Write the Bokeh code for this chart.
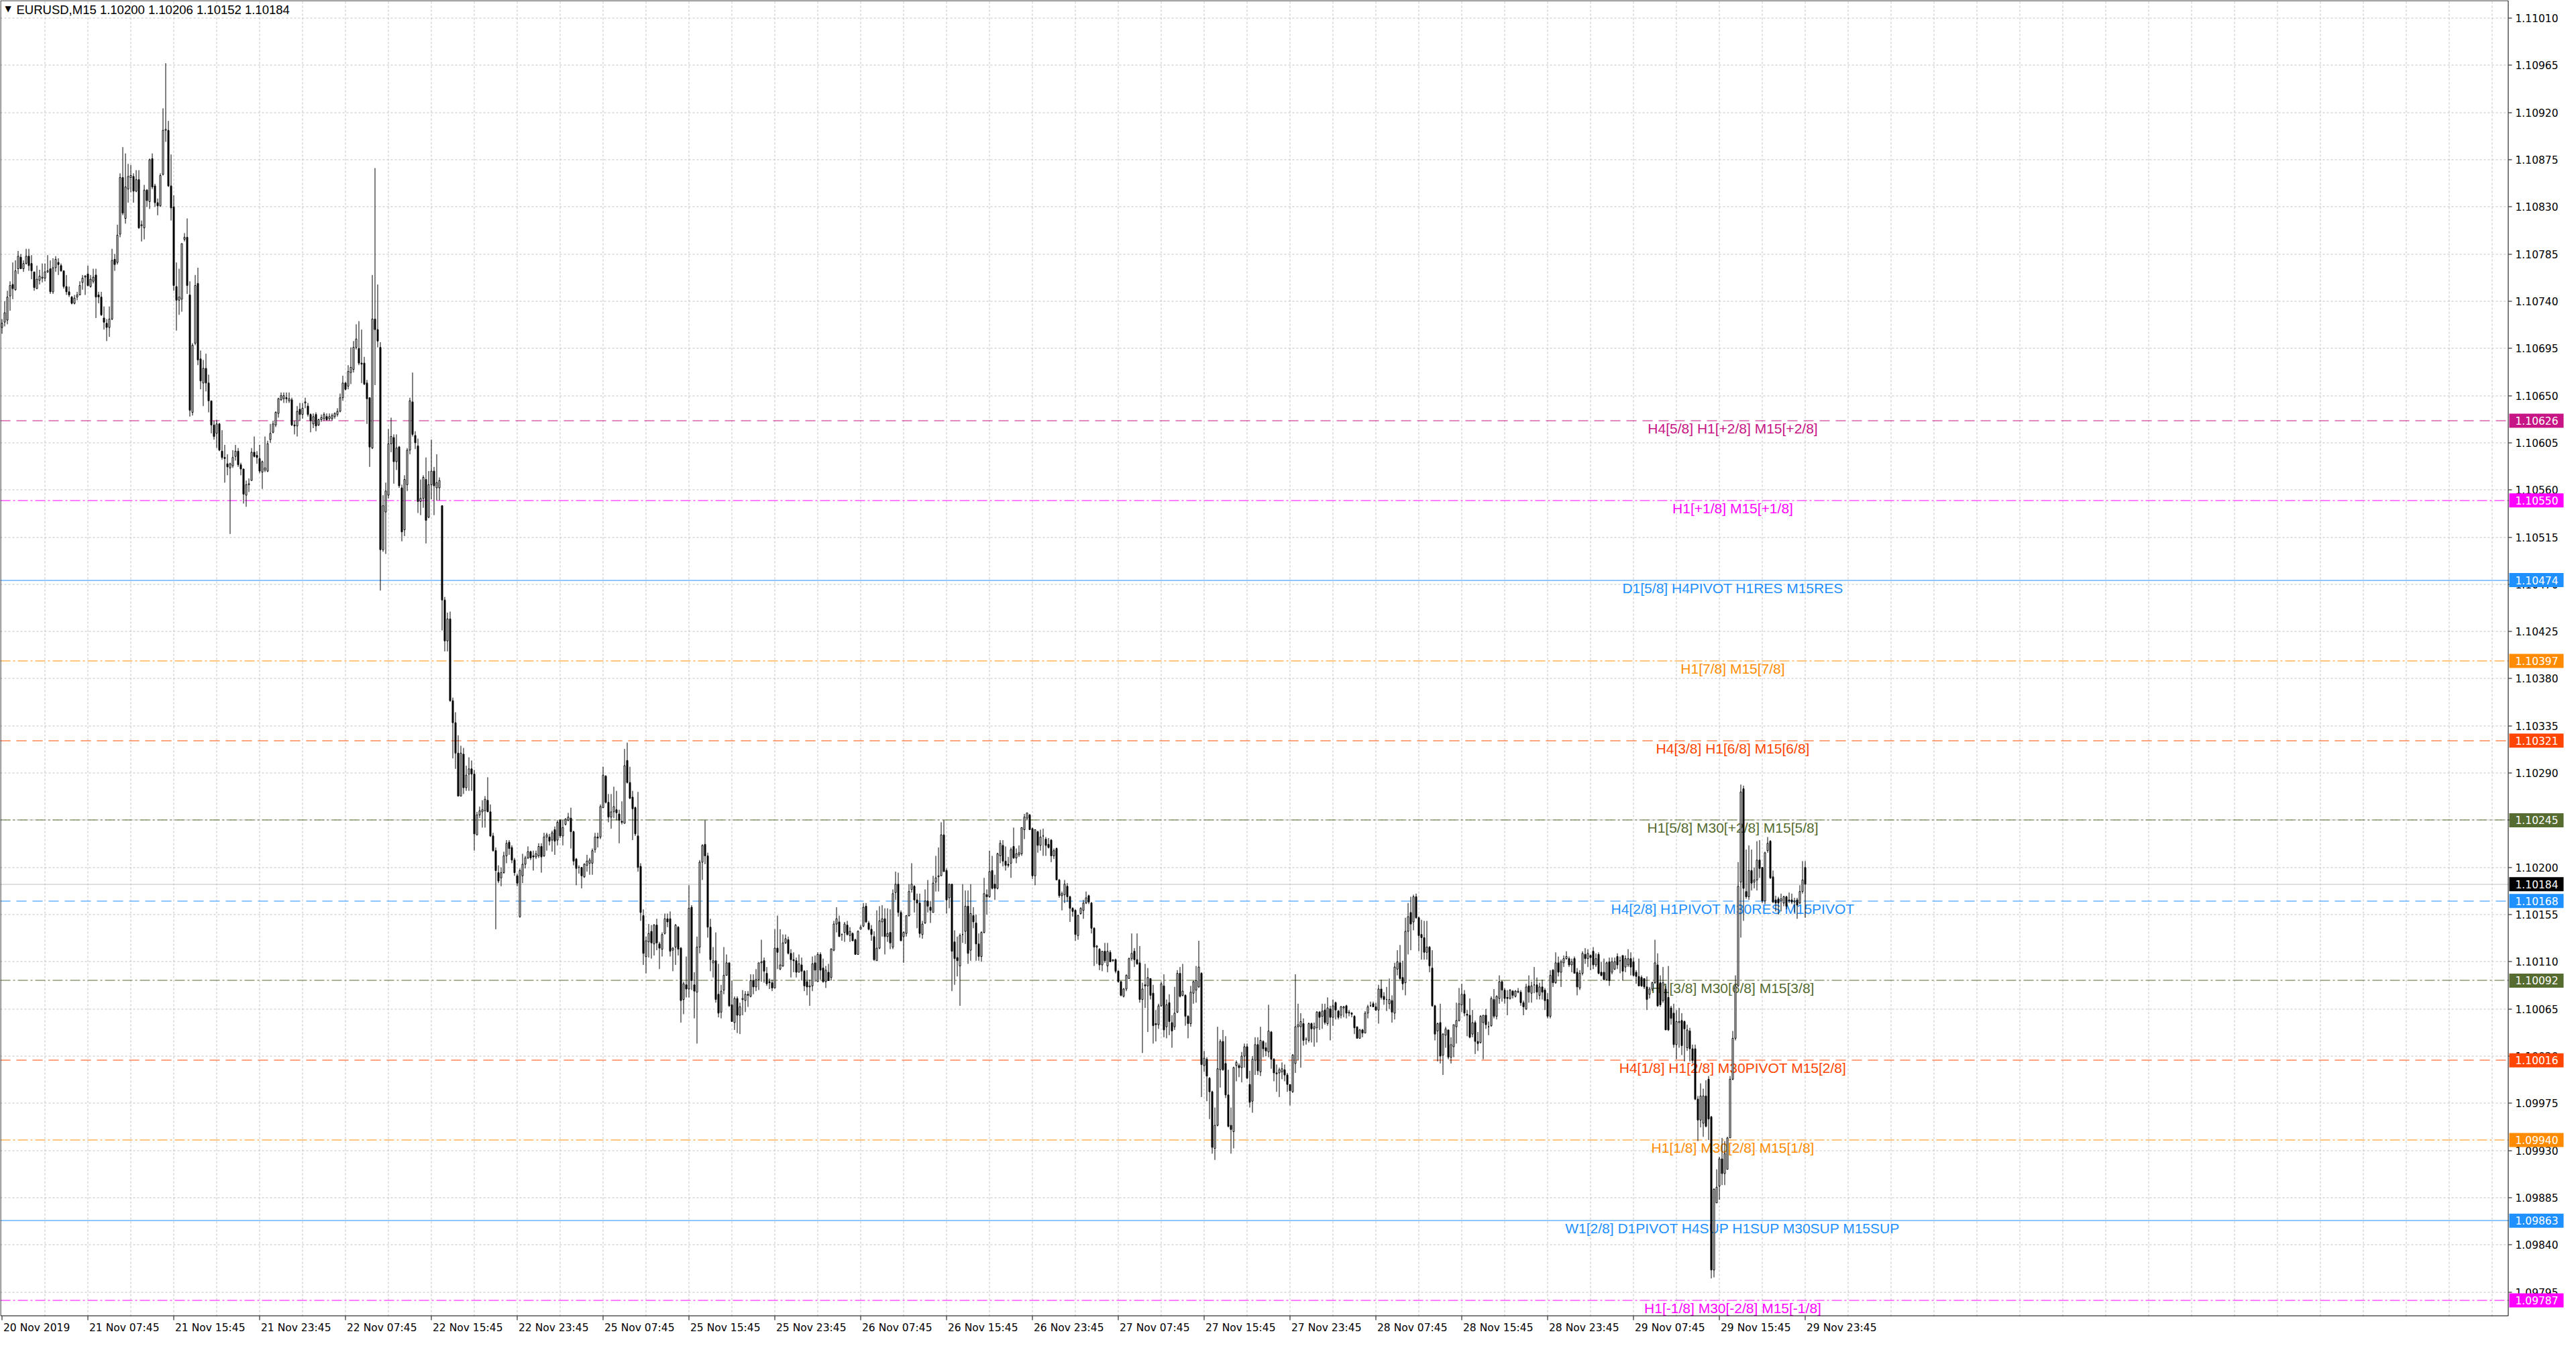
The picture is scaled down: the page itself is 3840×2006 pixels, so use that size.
import numpy as np
import pandas as pd
from bokeh.plotting import figure
from bokeh.models import ColumnDataSource, Range1d, Label
from bokeh.core.properties import value
from bokeh.embed import file_html
from bokeh.resources import INLINE

# EURUSD M15, 20 Nov 2019 23:45 .. 29 Nov 2019 23:45
# prices are kept as points (0.00001) above 1.09000
symbol = "EURUSD,M15"
price_base = 1.09

opens = [
    # 0
    1715, 1720, 1722, 1745, 1756, 1751, 1771, 1782, 1771, 1776, 1783, 1776, 1768, 1752, 1760, 1762,
    1762, 1768, 1771, 1749, 1772, 1777, 1774, 1769, 1754, 1749, 1744, 1738, 1744, 1746, 1758, 1763,
    1766, 1754, 1759, 1765, 1746, 1744, 1724, 1719, 1715, 1723, 1780, 1777, 1804, 1858, 1819, 1847,
    1858, 1859, 1845, 1856, 1812, 1810, 1846, 1835, 1876, 1850, 1834, 1831, 1861, 1903, 1903, 1850,
    1830, 1754, 1741, 1742, 1799, 1801, 1746, 1634, 1700, 1757, 1685, 1662, 1676, 1662, 1645, 1622,
    1614, 1623, 1597, 1591, 1585, 1581, 1583, 1592, 1597, 1584, 1580, 1555, 1565, 1569, 1596, 1593,
    1590, 1577, 1579, 1578, 1608, 1615, 1622, 1633,
    # 104
    1646, 1647, 1648, 1645, 1646, 1622, 1621, 1637, 1632, 1643, 1640, 1632, 1623, 1632, 1622, 1627,
    1628, 1630, 1628, 1628, 1630, 1632, 1635, 1648, 1662, 1659, 1672, 1675, 1696, 1695, 1681, 1681,
    1662, 1648, 1600, 1723, 1713, 1696, 1503, 1539, 1555, 1604, 1610, 1587, 1601, 1562, 1522, 1565,
    1598, 1644, 1612, 1602, 1549, 1552, 1570, 1534, 1565, 1578, 1562, 1562, 1545, 1455, 1416, 1437,
    1359, 1338, 1309, 1268, 1308, 1276, 1289, 1294, 1289, 1231, 1250, 1253, 1254, 1264, 1253, 1230,
    1216, 1195, 1190, 1195, 1211, 1224, 1219, 1207, 1192, 1153, 1192, 1203, 1209, 1215, 1211, 1210,
    1211, 1220, 1211, 1229,
    # 204
    1229, 1226, 1236, 1226, 1245, 1230, 1241, 1245, 1247, 1234, 1208, 1200, 1200, 1191, 1202, 1204,
    1204, 1217, 1229, 1229, 1257, 1287, 1262, 1248, 1253, 1255, 1251, 1244, 1242, 1302, 1281, 1267,
    1257, 1230, 1201, 1154, 1115, 1129, 1139, 1127, 1145, 1127, 1122, 1137, 1151, 1151, 1121, 1124,
    1143, 1123, 1074, 1088, 1084, 1162, 1088, 1081, 1124, 1205, 1222, 1211, 1143, 1109, 1111, 1079,
    1062, 1083, 1097, 1109, 1069, 1052, 1075, 1059, 1074, 1073, 1079, 1077, 1092, 1086, 1093, 1109,
    1111, 1099, 1091, 1090, 1085, 1123, 1103, 1106, 1128, 1131, 1118, 1112, 1111, 1100, 1107, 1101,
    1091, 1086, 1087, 1109, 1091, 1117, 1104, 1091, 1100,
    # 309
    1095, 1121, 1146, 1148, 1136, 1138, 1145, 1135, 1137, 1131, 1117, 1141, 1144, 1163, 1147, 1141,
    1134, 1111, 1123, 1148, 1151, 1134, 1138, 1124, 1176, 1184, 1157, 1134, 1137, 1154, 1179, 1182,
    1169, 1166, 1136, 1147, 1168, 1162, 1157, 1186, 1191, 1192, 1231, 1197, 1171, 1184, 1129, 1114,
    1106, 1136, 1139, 1163, 1121, 1154, 1147, 1127, 1115, 1138, 1174, 1172, 1197, 1184, 1180, 1211,
    1221, 1206, 1203, 1204, 1220, 1209, 1212, 1213, 1236, 1247, 1250, 1237, 1192, 1234, 1221, 1230,
    1227, 1222, 1226, 1211, 1218, 1188, 1173, 1174, 1182, 1172, 1161, 1159, 1135, 1156, 1159, 1166,
    1173, 1166, 1142, 1124, 1122, 1107, 1120,
    # 412
    1106, 1119, 1111, 1112, 1101, 1091, 1077, 1084, 1094, 1113, 1120, 1112, 1109, 1074, 1088, 1087,
    1094, 1080, 1051, 1050, 1068, 1087, 1048, 1071, 1052, 1048, 1062, 1099, 1078, 1078, 1058, 1051,
    1080, 1083, 1086, 1099, 1011, 1017, 999, 986, 932, 954, 1007, 1034, 1013, 983, 954, 948,
    1011, 1011, 1009, 1020, 1029, 993, 977, 1016, 1031, 1005, 1034, 1028, 1024, 1043, 1017, 1004,
    1004, 1005, 1007, 1002, 993, 986, 1013, 1048, 1048, 1051, 1036, 1035, 1051, 1046, 1047, 1062,
    1058, 1064,
    # 494
    1051, 1065, 1057, 1071, 1063, 1059, 1066, 1068, 1061, 1061, 1058, 1048, 1037, 1045, 1042, 1061,
    1068, 1070, 1067, 1064, 1084, 1077, 1074, 1070, 1073, 1061, 1103, 1109, 1095, 1090, 1139, 1157,
    1148, 1172, 1152, 1136, 1133, 1119, 1124, 1104, 1068, 1044, 1052, 1021, 1040, 1045, 1019, 1029,
    1048, 1054, 1069, 1079, 1060, 1059, 1041, 1052, 1034, 1033, 1052, 1059, 1048, 1049, 1074, 1058,
    1075, 1091, 1083, 1076, 1075, 1082, 1077, 1081, 1081, 1071, 1065, 1087, 1080, 1088, 1088, 1078,
    1086, 1083,
    # 576
    1074, 1058, 1102, 1090, 1109, 1100, 1109, 1113, 1113, 1107, 1113, 1100, 1085, 1099, 1117, 1113,
    1116, 1120, 1107, 1117, 1100, 1100, 1093, 1110, 1100, 1103, 1115, 1111, 1116, 1105, 1107, 1113,
    1110, 1100, 1096, 1095, 1094, 1086, 1079, 1084, 1090, 1107, 1090, 1073, 1084, 1076, 1066, 1061,
    1031, 1052, 1054, 1053, 1028, 1044, 1027, 1027, 979, 959, 956, 982, 998, 962, 816, 880,
    896, 922, 908, 912, 942, 998, 1037, 1087, 1186, 1275, 1177, 1172, 1197, 1186, 1188, 1207,
    1200, 1168, 1216, 1225, 1191, 1169, 1170, 1168, 1166, 1172, 1169, 1169, 1167, 1169, 1166, 1177,
    1200,
]

highs = [
    # 0
    1723, 1740, 1750, 1759, 1777, 1779, 1788, 1785, 1779, 1790, 1790, 1784, 1768, 1774, 1770, 1776,
    1776, 1784, 1779, 1781, 1783, 1781, 1776, 1769, 1765, 1754, 1745, 1746, 1749, 1759, 1765, 1765,
    1774, 1765, 1771, 1771, 1749, 1749, 1735, 1723, 1735, 1790, 1785, 1813, 1862, 1887, 1881, 1871,
    1870, 1862, 1865, 1865, 1817, 1851, 1847, 1876, 1881, 1852, 1838, 1862, 1924, 1967, 1912, 1880,
    1841, 1777, 1771, 1795, 1805, 1819, 1759, 1700, 1765, 1772, 1693, 1684, 1690, 1670, 1645, 1626,
    1627, 1624, 1617, 1603, 1594, 1586, 1598, 1603, 1600, 1586, 1580, 1569, 1571, 1600, 1611, 1597,
    1603, 1588, 1611, 1607, 1623, 1626, 1635, 1648,
    # 104
    1653, 1653, 1653, 1653, 1648, 1626, 1640, 1643, 1643, 1648, 1643, 1633, 1633, 1634, 1628, 1632,
    1634, 1633, 1633, 1633, 1634, 1638, 1652, 1669, 1663, 1679, 1696, 1702, 1718, 1721, 1713, 1687,
    1665, 1648, 1765, 1867, 1756, 1701, 1555, 1567, 1618, 1629, 1613, 1613, 1602, 1565, 1574, 1600,
    1648, 1672, 1616, 1609, 1570, 1574, 1591, 1578, 1608, 1582, 1594, 1572, 1545, 1458, 1443, 1444,
    1362, 1348, 1326, 1316, 1314, 1297, 1305, 1302, 1293, 1253, 1258, 1264, 1268, 1286, 1260, 1233,
    1219, 1202, 1200, 1215, 1226, 1226, 1221, 1209, 1194, 1199, 1213, 1211, 1220, 1216, 1216, 1216,
    1223, 1223, 1233, 1233,
    # 204
    1232, 1235, 1239, 1245, 1246, 1245, 1247, 1252, 1257, 1235, 1209, 1202, 1200, 1204, 1212, 1209,
    1218, 1233, 1233, 1260, 1296, 1288, 1270, 1270, 1277, 1273, 1255, 1263, 1313, 1319, 1296, 1273,
    1258, 1272, 1204, 1160, 1134, 1146, 1145, 1146, 1151, 1129, 1138, 1156, 1156, 1158, 1124, 1146,
    1144, 1124, 1091, 1115, 1183, 1164, 1100, 1134, 1207, 1222, 1245, 1214, 1151, 1124, 1138, 1108,
    1088, 1124, 1117, 1109, 1092, 1077, 1077, 1071, 1083, 1082, 1082, 1098, 1098, 1103, 1109, 1131,
    1114, 1105, 1094, 1093, 1141, 1154, 1141, 1136, 1136, 1134, 1122, 1119, 1114, 1117, 1114, 1102,
    1102, 1093, 1115, 1116, 1119, 1119, 1113, 1106, 1108,
    # 309
    1123, 1149, 1162, 1154, 1137, 1148, 1149, 1143, 1138, 1132, 1140, 1145, 1166, 1166, 1149, 1145,
    1139, 1159, 1163, 1164, 1161, 1161, 1160, 1179, 1196, 1195, 1159, 1139, 1154, 1184, 1204, 1183,
    1175, 1175, 1149, 1179, 1188, 1168, 1192, 1211, 1219, 1243, 1245, 1199, 1184, 1184, 1140, 1134,
    1137, 1184, 1178, 1178, 1184, 1162, 1155, 1137, 1139, 1190, 1179, 1216, 1211, 1193, 1214, 1226,
    1226, 1220, 1210, 1219, 1238, 1218, 1221, 1238, 1251, 1252, 1251, 1238, 1236, 1235, 1236, 1237,
    1229, 1228, 1227, 1218, 1219, 1189, 1177, 1188, 1185, 1173, 1162, 1160, 1155, 1162, 1169, 1177,
    1174, 1167, 1143, 1126, 1123, 1120, 1128,
    # 412
    1128, 1121, 1112, 1113, 1102, 1092, 1085, 1098, 1114, 1137, 1123, 1137, 1125, 1090, 1108, 1104,
    1094, 1088, 1064, 1070, 1091, 1098, 1074, 1079, 1059, 1086, 1102, 1105, 1108, 1079, 1059, 1087,
    1092, 1106, 1130, 1100, 1025, 1019, 1000, 987, 971, 1048, 1036, 1045, 1039, 1007, 971, 1010,
    1016, 1013, 1024, 1032, 1032, 1006, 1020, 1038, 1038, 1048, 1035, 1033, 1069, 1044, 1018, 1012,
    1009, 1014, 1012, 1004, 993, 1022, 1098, 1070, 1061, 1056, 1038, 1052, 1052, 1052, 1063, 1063,
    1070, 1070,
    # 494
    1076, 1068, 1074, 1072, 1064, 1068, 1068, 1069, 1064, 1062, 1059, 1048, 1046, 1046, 1063, 1069,
    1072, 1072, 1071, 1088, 1093, 1081, 1086, 1094, 1078, 1109, 1121, 1126, 1111, 1152, 1166, 1172,
    1174, 1175, 1153, 1150, 1149, 1149, 1125, 1121, 1069, 1052, 1070, 1042, 1048, 1045, 1038, 1050,
    1071, 1085, 1089, 1083, 1064, 1075, 1064, 1054, 1043, 1059, 1059, 1065, 1053, 1077, 1084, 1078,
    1097, 1092, 1085, 1083, 1084, 1083, 1083, 1085, 1083, 1073, 1089, 1097, 1091, 1105, 1095, 1090,
    1093, 1085,
    # 576
    1080, 1102, 1103, 1119, 1115, 1112, 1116, 1120, 1115, 1113, 1115, 1104, 1102, 1120, 1123, 1122,
    1117, 1124, 1118, 1119, 1110, 1113, 1110, 1114, 1114, 1114, 1118, 1115, 1116, 1116, 1122, 1119,
    1114, 1102, 1113, 1097, 1094, 1096, 1086, 1091, 1131, 1118, 1097, 1105, 1087, 1106, 1068, 1070,
    1064, 1066, 1061, 1054, 1050, 1047, 1031, 1031, 982, 994, 989, 997, 1001, 963, 894, 912,
    924, 942, 939, 943, 1001, 1044, 1097, 1205, 1279, 1278, 1217, 1221, 1217, 1200, 1225, 1226,
    1200, 1215, 1229, 1226, 1197, 1173, 1172, 1175, 1173, 1173, 1176, 1175, 1171, 1171, 1183, 1206,
    1206,
]

lows = [
    # 0
    1709, 1716, 1718, 1731, 1742, 1750, 1766, 1771, 1768, 1775, 1769, 1761, 1750, 1752, 1756, 1758,
    1759, 1767, 1747, 1747, 1768, 1765, 1768, 1752, 1746, 1744, 1737, 1737, 1741, 1746, 1751, 1746,
    1754, 1753, 1757, 1724, 1738, 1726, 1713, 1702, 1706, 1722, 1769, 1775, 1801, 1822, 1814, 1834,
    1844, 1834, 1844, 1809, 1797, 1799, 1830, 1828, 1847, 1830, 1822, 1830, 1860, 1892, 1849, 1817,
    1750, 1712, 1727, 1730, 1797, 1747, 1630, 1631, 1698, 1679, 1656, 1640, 1654, 1634, 1614, 1608,
    1600, 1597, 1589, 1567, 1574, 1518, 1581, 1588, 1582, 1574, 1547, 1544, 1558, 1569, 1591, 1585,
    1576, 1561, 1577, 1577, 1605, 1614, 1620, 1629,
    # 104
    1645, 1643, 1643, 1643, 1621, 1613, 1611, 1626, 1628, 1638, 1630, 1615, 1619, 1616, 1621, 1625,
    1626, 1626, 1626, 1626, 1628, 1630, 1634, 1645, 1655, 1656, 1661, 1672, 1694, 1679, 1662, 1660,
    1623, 1582, 1599, 1660, 1696, 1464, 1501, 1499, 1552, 1596, 1566, 1579, 1562, 1511, 1516, 1559,
    1594, 1611, 1599, 1538, 1536, 1543, 1509, 1533, 1551, 1536, 1550, 1550, 1426, 1406, 1406, 1358,
    1304, 1294, 1268, 1268, 1270, 1273, 1273, 1273, 1216, 1231, 1247, 1238, 1238, 1253, 1229, 1215,
    1141, 1185, 1182, 1194, 1204, 1212, 1204, 1192, 1182, 1152, 1185, 1199, 1208, 1207, 1197, 1208,
    1209, 1195, 1210, 1216,
    # 204
    1221, 1215, 1212, 1221, 1228, 1221, 1240, 1244, 1218, 1202, 1183, 1194, 1180, 1190, 1196, 1193,
    1193, 1214, 1219, 1227, 1257, 1261, 1243, 1237, 1247, 1245, 1223, 1241, 1242, 1280, 1265, 1226,
    1230, 1196, 1149, 1107, 1099, 1114, 1113, 1116, 1121, 1103, 1115, 1136, 1143, 1115, 1101, 1107,
    1116, 1052, 1060, 1076, 1076, 1083, 1056, 1032, 1118, 1188, 1203, 1133, 1101, 1095, 1071, 1057,
    1056, 1079, 1097, 1067, 1053, 1045, 1042, 1041, 1059, 1062, 1067, 1076, 1079, 1082, 1083, 1091,
    1090, 1087, 1084, 1082, 1085, 1103, 1102, 1105, 1127, 1117, 1095, 1100, 1095, 1100, 1092, 1082,
    1078, 1068, 1082, 1091, 1091, 1093, 1090, 1085, 1092,
    # 309
    1092, 1120, 1138, 1134, 1130, 1129, 1135, 1129, 1130, 1117, 1117, 1141, 1143, 1147, 1140, 1130,
    1111, 1111, 1122, 1134, 1117, 1129, 1122, 1122, 1169, 1153, 1130, 1109, 1134, 1153, 1176, 1157,
    1142, 1133, 1132, 1146, 1157, 1147, 1157, 1177, 1177, 1192, 1196, 1156, 1161, 1082, 1088, 1096,
    1068, 1128, 1127, 1108, 1111, 1142, 1111, 1111, 1110, 1137, 1155, 1171, 1179, 1169, 1179, 1204,
    1201, 1197, 1200, 1190, 1208, 1204, 1210, 1211, 1227, 1245, 1236, 1189, 1183, 1214, 1216, 1211,
    1211, 1218, 1205, 1208, 1188, 1171, 1159, 1166, 1167, 1148, 1153, 1130, 1131, 1155, 1151, 1165,
    1165, 1137, 1106, 1108, 1102, 1101, 1109,
    # 412
    1100, 1110, 1110, 1099, 1090, 1077, 1076, 1082, 1094, 1111, 1105, 1107, 1071, 1023, 1066, 1043,
    1074, 1032, 1034, 1046, 1067, 1038, 1037, 1040, 1028, 1045, 1061, 1076, 1077, 1049, 1037, 1048,
    1070, 1071, 1085, 981, 1005, 977, 960, 927, 921, 953, 990, 1006, 980, 952, 927, 932,
    996, 1000, 995, 1009, 998, 971, 966, 1002, 1002, 1001, 1019, 1020, 1019, 1008, 996, 986,
    981, 998, 996, 986, 973, 985, 1004, 1016, 1009, 1030, 1031, 1033, 1033, 1029, 1033, 1045,
    1046, 1050,
    # 494
    1049, 1035, 1049, 1055, 1055, 1056, 1057, 1056, 1058, 1057, 1041, 1037, 1037, 1038, 1042, 1056,
    1067, 1067, 1063, 1051, 1074, 1069, 1063, 1065, 1052, 1055, 1097, 1093, 1083, 1078, 1117, 1121,
    1140, 1151, 1120, 1112, 1112, 1112, 1100, 1067, 1035, 1015, 1013, 1002, 1028, 1017, 1013, 1019,
    1032, 1053, 1062, 1058, 1039, 1037, 1038, 1022, 1025, 1032, 1017, 1046, 1040, 1048, 1056, 1055,
    1070, 1072, 1070, 1059, 1074, 1075, 1076, 1080, 1068, 1059, 1064, 1071, 1071, 1080, 1074, 1074,
    1074, 1064,
    # 576
    1056, 1056, 1086, 1089, 1096, 1086, 1105, 1112, 1105, 1100, 1099, 1078, 1083, 1097, 1108, 1105,
    1102, 1103, 1105, 1098, 1096, 1092, 1092, 1087, 1098, 1102, 1103, 1099, 1092, 1100, 1105, 1097,
    1096, 1089, 1087, 1086, 1084, 1064, 1075, 1082, 1089, 1067, 1067, 1071, 1045, 1044, 1050, 1028,
    1017, 1028, 1021, 1015, 1025, 1015, 1013, 978, 939, 952, 943, 952, 940, 808, 809, 880,
    883, 897, 897, 912, 942, 997, 1035, 1086, 1133, 1149, 1170, 1169, 1178, 1180, 1178, 1190,
    1166, 1165, 1214, 1189, 1166, 1158, 1155, 1158, 1163, 1160, 1166, 1165, 1157, 1151, 1165, 1175,
    1152,
]

closes = [
    # 0
    1719, 1729, 1744, 1755, 1752, 1769, 1783, 1771, 1776, 1783, 1774, 1769, 1753, 1761, 1764, 1763,
    1768, 1769, 1749, 1772, 1780, 1775, 1769, 1754, 1749, 1746, 1738, 1743, 1746, 1755, 1762, 1764,
    1755, 1761, 1763, 1744, 1744, 1727, 1720, 1715, 1723, 1779, 1775, 1803, 1858, 1824, 1849, 1859,
    1860, 1845, 1856, 1810, 1813, 1846, 1836, 1875, 1849, 1834, 1831, 1860, 1903, 1904, 1850, 1829,
    1755, 1741, 1744, 1795, 1801, 1755, 1636, 1698, 1755, 1684, 1664, 1676, 1662, 1645, 1622, 1611,
    1623, 1598, 1591, 1590, 1582, 1585, 1591, 1597, 1584, 1580, 1556, 1565, 1566, 1596, 1592, 1591,
    1578, 1587, 1581, 1604, 1614, 1623, 1634, 1647,
    # 104
    1650, 1650, 1647, 1647, 1622, 1621, 1635, 1632, 1638, 1644, 1632, 1626, 1630, 1621, 1627, 1629,
    1632, 1627, 1630, 1631, 1633, 1635, 1648, 1662, 1656, 1673, 1677, 1696, 1704, 1681, 1680, 1661,
    1647, 1601, 1723, 1713, 1702, 1503, 1545, 1559, 1604, 1611, 1587, 1600, 1564, 1520, 1570, 1598,
    1645, 1613, 1605, 1549, 1552, 1572, 1531, 1565, 1578, 1564, 1567, 1569, 1455, 1416, 1437, 1359,
    1338, 1309, 1268, 1309, 1276, 1288, 1294, 1289, 1232, 1250, 1254, 1255, 1265, 1253, 1230, 1216,
    1197, 1187, 1195, 1211, 1223, 1218, 1207, 1195, 1185, 1197, 1203, 1209, 1215, 1209, 1210, 1213,
    1220, 1210, 1229, 1231,
    # 204
    1225, 1233, 1225, 1243, 1230, 1238, 1246, 1248, 1234, 1206, 1199, 1200, 1192, 1203, 1206, 1207,
    1216, 1229, 1228, 1258, 1288, 1262, 1248, 1253, 1258, 1252, 1245, 1243, 1297, 1281, 1266, 1256,
    1232, 1200, 1157, 1118, 1130, 1137, 1128, 1145, 1128, 1123, 1136, 1151, 1148, 1120, 1123, 1145,
    1122, 1073, 1089, 1084, 1161, 1092, 1082, 1124, 1205, 1221, 1211, 1143, 1112, 1111, 1074, 1061,
    1082, 1097, 1109, 1068, 1053, 1075, 1059, 1067, 1075, 1079, 1078, 1092, 1086, 1093, 1109, 1110,
    1101, 1089, 1090, 1085, 1123, 1119, 1107, 1128, 1132, 1118, 1112, 1111, 1100, 1108, 1101, 1087,
    1086, 1087, 1108, 1102, 1117, 1102, 1091, 1102, 1092,
    # 309
    1122, 1146, 1151, 1134, 1136, 1146, 1136, 1139, 1130, 1117, 1139, 1143, 1162, 1148, 1141, 1136,
    1112, 1123, 1149, 1151, 1134, 1137, 1128, 1175, 1184, 1157, 1130, 1138, 1154, 1177, 1184, 1169,
    1166, 1137, 1146, 1168, 1163, 1159, 1185, 1190, 1192, 1231, 1196, 1169, 1184, 1120, 1113, 1111,
    1135, 1136, 1163, 1118, 1156, 1148, 1127, 1115, 1138, 1175, 1172, 1196, 1180, 1180, 1213, 1223,
    1206, 1202, 1202, 1217, 1209, 1213, 1214, 1238, 1248, 1252, 1236, 1192, 1236, 1221, 1229, 1230,
    1221, 1219, 1211, 1216, 1188, 1173, 1175, 1184, 1172, 1161, 1158, 1136, 1154, 1161, 1166, 1171,
    1167, 1142, 1124, 1125, 1107, 1120, 1111,
    # 412
    1120, 1110, 1112, 1101, 1091, 1078, 1084, 1097, 1113, 1118, 1112, 1108, 1074, 1084, 1087, 1095,
    1078, 1049, 1050, 1068, 1089, 1045, 1069, 1053, 1044, 1061, 1099, 1077, 1082, 1058, 1051, 1081,
    1091, 1092, 1105, 1012, 1018, 1001, 986, 933, 954, 1008, 1034, 1007, 983, 953, 950, 1009,
    1014, 1009, 1020, 1029, 999, 976, 1017, 1031, 1006, 1035, 1027, 1025, 1044, 1017, 1004, 1003,
    1007, 1008, 1002, 993, 987, 1021, 1048, 1050, 1053, 1035, 1036, 1051, 1046, 1048, 1062, 1057,
    1063, 1052,
    # 494
    1066, 1057, 1068, 1064, 1057, 1067, 1067, 1061, 1062, 1060, 1047, 1037, 1045, 1042, 1061, 1067,
    1068, 1067, 1064, 1084, 1076, 1074, 1074, 1074, 1062, 1105, 1110, 1094, 1089, 1139, 1153, 1146,
    1172, 1152, 1135, 1133, 1119, 1124, 1106, 1068, 1041, 1051, 1020, 1041, 1046, 1019, 1031, 1050,
    1054, 1070, 1079, 1061, 1059, 1038, 1052, 1034, 1032, 1058, 1059, 1050, 1048, 1075, 1058, 1077,
    1091, 1083, 1075, 1075, 1083, 1078, 1082, 1082, 1071, 1067, 1086, 1081, 1087, 1088, 1081, 1086,
    1081, 1073,
    # 576
    1058, 1097, 1090, 1109, 1100, 1110, 1113, 1115, 1107, 1110, 1099, 1086, 1099, 1118, 1113, 1118,
    1114, 1107, 1113, 1099, 1097, 1093, 1109, 1092, 1110, 1110, 1107, 1111, 1101, 1113, 1113, 1105,
    1097, 1096, 1087, 1087, 1086, 1074, 1084, 1090, 1109, 1068, 1069, 1090, 1045, 1045, 1056, 1031,
    1053, 1053, 1030, 1046, 1045, 1027, 1016, 979, 959, 982, 982, 953, 960, 816, 893, 895,
    922, 908, 927, 942, 998, 1037, 1087, 1182, 1272, 1180, 1172, 1197, 1185, 1188, 1207, 1199,
    1168, 1214, 1223, 1190, 1167, 1166, 1166, 1170, 1172, 1163, 1168, 1167, 1168, 1164, 1177, 1188,
    1184,
]

time_label_bars = [0, 32, 64, 96, 128, 160, 192, 224, 256, 288, 320, 352, 384, 416, 448,
                   480, 512, 544, 576, 608, 640, 672]
time_labels = ["20 Nov 2019", "21 Nov 07:45", "21 Nov 15:45", "21 Nov 23:45", "22 Nov 07:45",
               "22 Nov 15:45", "22 Nov 23:45", "25 Nov 07:45", "25 Nov 15:45", "25 Nov 23:45",
               "26 Nov 07:45", "26 Nov 15:45", "26 Nov 23:45", "27 Nov 07:45", "27 Nov 15:45",
               "27 Nov 23:45", "28 Nov 07:45", "28 Nov 15:45", "28 Nov 23:45", "29 Nov 07:45",
               "29 Nov 15:45", "29 Nov 23:45"]

price_ticks = [1.09795, 1.09840, 1.09885, 1.09930, 1.09975, 1.10020, 1.10065, 1.10110,
               1.10155, 1.10200, 1.10245, 1.10290, 1.10335, 1.10380, 1.10425, 1.10470,
               1.10515, 1.10560, 1.10605, 1.10650, 1.10695, 1.10740, 1.10785, 1.10830,
               1.10875, 1.10920, 1.10965, 1.11010]

# Murrey math levels drawn by the indicator
level_prices = [1.10626, 1.10550, 1.10474, 1.10397, 1.10321, 1.10245,
                1.10168, 1.10092, 1.10016, 1.09940, 1.09863, 1.09787]
level_texts = ["H4[5/8] H1[+2/8] M15[+2/8]",
               "H1[+1/8] M15[+1/8]",
               "D1[5/8] H4PIVOT H1RES M15RES",
               "H1[7/8] M15[7/8]",
               "H4[3/8] H1[6/8] M15[6/8]",
               "H1[5/8] M30[+2/8] M15[5/8]",
               "H4[2/8] H1PIVOT M30RES M15PIVOT",
               "H1[3/8] M30[6/8] M15[3/8]",
               "H4[1/8] H1[2/8] M30PIVOT M15[2/8]",
               "H1[1/8] M30[2/8] M15[1/8]",
               "W1[2/8] D1PIVOT H4SUP H1SUP M30SUP M15SUP",
               "H1[-1/8] M30[-2/8] M15[-1/8]"]
level_colors = ["#C71585", "#FF00FF", "#1E90FF", "#FF8C00", "#FF4500", "#556B2F",
                "#1E90FF", "#556B2F", "#FF4500", "#FF8C00", "#1E90FF", "#FF00FF"]
level_styles = ["dash", "dashdot", "solid", "dashdot", "dash", "dashdot",
                "dash", "dashdot", "dash", "dashdot", "solid", "dashdot"]
level_text_bar = 645
bid_price = 1.10184

# ---------------------------------------------------------------------------
# layout of the terminal window (pixels); 4 px per bar as in the terminal
CHART_W, CHART_H = 3739, 1961      # price area
AXIS_W, AXIS_H = 85, 29            # price scale on the right, time scale below
PX_BAR = 4.0
X0 = -0.625                        # puts every bar centre on a pixel centre
X1 = X0 + CHART_W / PX_BAR
Y0, Y1 = 1.09772, 1.11027          # visible prices in the price area
px_price = CHART_H / (Y1 - Y0)
dx = 1.0 / PX_BAR                  # one pixel in bar units
dy = 1.0 / px_price                # one pixel in price units


def crisp(price):
    """move a horizontal 1px line onto the nearest pixel row"""
    return Y1 - (np.floor((Y1 - price) * px_price) + 0.5) * dy


n = min(len(opens), len(highs), len(lows), len(closes))
o = price_base + np.array(opens[:n]) * 1e-5
h = price_base + np.array(highs[:n]) * 1e-5
l = price_base + np.array(lows[:n]) * 1e-5
c = price_base + np.array(closes[:n]) * 1e-5

df = pd.DataFrame({"i": np.arange(n), "o": o, "h": h, "l": l, "c": c})
df["top"] = np.maximum(df.o, df.c)
df["bottom"] = np.minimum(df.o, df.c)
df["fill"] = np.where(df.c >= df.o, "white", "black")
source = ColumnDataSource(df)

p = figure(
    frame_width=CHART_W + AXIS_W, frame_height=CHART_H + AXIS_H,
    x_range=Range1d(X0, X1 + AXIS_W * dx), y_range=Range1d(Y0 - AXIS_H * dy, Y1),
    x_axis_location=None, y_axis_location=None,
    toolbar_location=None, tools="",
    output_backend="svg",
    min_border_left=0, min_border_top=0, min_border_right=0, min_border_bottom=0,
)
p.background_fill_color = "white"
p.border_fill_color = "white"
p.outline_line_color = None
p.grid.visible = False

GRID = dict(line_color="#c0c0c0", line_width=1, line_dash="3 3")
AXIS_FONT = value("DejaVu Sans")

# grid: vertical every 4 hours, horizontal on every price tick
vgrid = list(range(16, int(X1) + 1, 16))
grid_y = [crisp(t) for t in price_ticks]
p.segment(x0=vgrid, y0=[Y0] * len(vgrid), x1=vgrid, y1=[Y1] * len(vgrid), **GRID)
p.segment(x0=[X0] * len(grid_y), y0=grid_y, x1=[X1] * len(grid_y), y1=grid_y, **GRID)

# level lines and their texts (behind the candles)
dash_map = {"dash": "15 9", "dashdot": "15 4 3 4", "solid": "solid"}
for style, dash in dash_map.items():
    idx = [k for k, s in enumerate(level_styles) if s == style]
    ys = [crisp(level_prices[k]) for k in idx]
    p.segment(x0=[X0] * len(ys), y0=ys, x1=[X1] * len(ys), y1=ys,
              line_color=[level_colors[k] for k in idx], line_width=1, line_dash=dash)
p.segment(x0=[X0], y0=[crisp(bid_price)], x1=[X1], y1=[crisp(bid_price)],
          line_color="#c0c0c0", line_width=1)

p.text(x=[level_text_bar] * len(level_prices), y=level_prices, text=level_texts,
       text_color=level_colors, text_align="center", text_baseline="top",
       text_font=value("Liberation Sans"), text_font_size="21px")

# candles
p.segment(x0="i", y0="l", x1="i", y1="h", source=source, line_color="black", line_width=1)
p.vbar(x="i", width=0.5, top="top", bottom="bottom", fill_color="fill",
       line_color="black", line_width=1, source=source)

# frame of the price area
p.quad(left=[X0 + 0.5 * dx], right=[X1 - 0.5 * dx], bottom=[Y0 + 0.5 * dy], top=[Y1 - 0.5 * dy],
       fill_color=None, line_color="black", line_width=1)

# price scale
nt = len(price_ticks)
p.segment(x0=[X1] * nt, y0=grid_y, x1=[X1 + 5 * dx] * nt, y1=grid_y,
          line_color="black", line_width=1)
p.text(x=[X1 + 10 * dx] * nt, y=price_ticks, text=[f"{t:.5f}" for t in price_ticks],
       text_align="left", text_baseline="middle", text_color="black",
       text_font=AXIS_FONT, text_font_size="15.5px")

# price tags of the levels and of the bid
tag_prices = level_prices + [bid_price]
tag_colors = level_colors + ["black"]
p.quad(left=[X1 + 1 * dx] * len(tag_prices), right=[X1 + 82 * dx] * len(tag_prices),
       bottom=[t - 10.5 * dy for t in tag_prices], top=[t + 10.5 * dy for t in tag_prices],
       fill_color=tag_colors, line_color=None)
p.text(x=[X1 + 10 * dx] * len(tag_prices), y=tag_prices, text=[f"{t:.5f}" for t in tag_prices],
       text_align="left", text_baseline="middle", text_color="white",
       text_font=AXIS_FONT, text_font_size="15.5px")

# time scale, labels left aligned to their tick like the terminal does
nl = len(time_label_bars)
p.segment(x0=time_label_bars, y0=[Y0] * nl, x1=time_label_bars, y1=[Y0 - 6 * dy] * nl,
          line_color="black", line_width=1)
p.text(x=[b + 2 * dx for b in time_label_bars], y=[Y0 - 8 * dy] * nl, text=time_labels,
       text_align="left", text_baseline="top", text_color="black",
       text_font=AXIS_FONT, text_font_size="15.5px")

# chart caption with the last bar's OHLC
last = df.iloc[-1]
caption = f"{symbol}  {last.o:.5f} {last.h:.5f} {last.l:.5f} {last.c:.5f}"
FH = CHART_H + AXIS_H
p.add_layout(Label(x=7, y=FH - 12, x_units="screen", y_units="screen", text="\u25bc",
                   text_baseline="middle", text_font="DejaVu Sans",
                   text_font_size="12px", text_color="black"))
p.add_layout(Label(x=24, y=FH - 3, x_units="screen", y_units="screen", text=caption,
                   text_baseline="top", text_font="Liberation Sans",
                   text_font_size="18.5px", text_color="black"))

open("out.html", "w").write(file_html(p, INLINE))
